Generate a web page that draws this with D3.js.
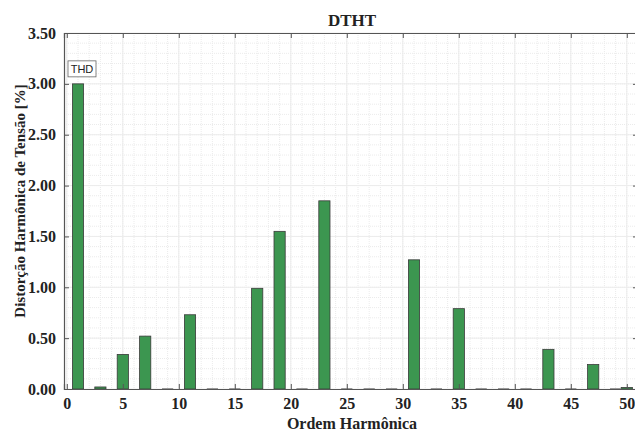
<!DOCTYPE html>
<html>
<head>
<meta charset="utf-8">
<script src="https://cdn.jsdelivr.net/npm/d3@7"></script>
<style>
  body { margin: 0; background: #fff; }
  text { font-family: "Liberation Serif", "Times New Roman", serif; }
</style>
</head>
<body>
<div id="chart"></div>
<script>
// harmonic orders and their voltage distortion (%)
const harmonics = [1, 3, 5, 7, 9, 11, 13, 15, 17, 19, 21, 23, 25, 27, 29, 31, 33, 35, 37, 39, 41, 43, 45, 47, 49, 50]
const dtht = [3.00, 0.02, 0.34, 0.52, 0, 0.73, 0, 0, 0.99, 1.55, 0, 1.85, 0, 0, 0, 1.27, 0, 0.79, 0, 0, 0, 0.39, 0, 0.24, 0, 0.015]
const xTicks = [0, 5, 10, 15, 20, 25, 30, 35, 40, 45, 50]
const yTicks = [0, 0.5, 1, 1.5, 2, 2.5, 3, 3.5]

const W = 635, H = 433
const margin = {top: 33, right: -3, bottom: 44, left: 64}
const w = W - margin.left - margin.right,
    h = H - margin.top - margin.bottom

const svg = d3.select("#chart").append("svg")
    .attr("width", W)
    .attr("height", H)

const g = svg.append("g")
    .attr("transform", `translate(${margin.left}, ${margin.top})`)

const x = d3.scaleLinear().domain([-0.25, 51]).range([0, w])
const y = d3.scaleLinear().domain([0, 3.5]).range([h, 0])

// minor grid
g.append("g").selectAll("line")
    .data(d3.range(0, 52, 1))
    .join("line")
    .attr("x1", d => x(d)).attr("x2", d => x(d))
    .attr("y1", 0).attr("y2", h)
    .attr("stroke", "#ebebeb")
    .attr("stroke-dasharray", "1,1")
g.append("g").selectAll("line")
    .data(d3.range(1, 35).map(d => d / 10))
    .join("line")
    .attr("x1", 0).attr("x2", w)
    .attr("y1", d => y(d)).attr("y2", d => y(d))
    .attr("stroke", "#ebebeb")
    .attr("stroke-dasharray", "1,1")

// major grid
g.append("g").selectAll("line")
    .data(xTicks)
    .join("line")
    .attr("x1", d => x(d)).attr("x2", d => x(d))
    .attr("y1", 0).attr("y2", h)
    .attr("stroke", "#ececec")
g.append("g").selectAll("line")
    .data(yTicks)
    .join("line")
    .attr("x1", 0).attr("x2", w)
    .attr("y1", d => y(d)).attr("y2", d => y(d))
    .attr("stroke", "#ececec")

// bars
const bw = x(1) - x(0)
g.append("g").selectAll("rect")
    .data(harmonics)
    .join("rect")
    .attr("x", d => x(d) - bw / 2)
    .attr("y", (d, i) => y(dtht[i]))
    .attr("width", bw)
    .attr("height", (d, i) => y(0) - y(dtht[i]))
    .attr("fill", "#3c9650")
    .attr("stroke", "#3a3a3a")
    .attr("stroke-width", 0.8)

// zero-height bars still show their edge
g.append("g").selectAll("line")
    .data(harmonics.filter((d, i) => dtht[i] === 0))
    .join("line")
    .attr("x1", d => x(d) - bw / 2).attr("x2", d => x(d) + bw / 2)
    .attr("y1", y(0) - 0.5).attr("y2", y(0) - 0.5)
    .attr("stroke", "#999")
    .attr("stroke-width", 1)

// axes (ticks pointing inside, like the original)
const fmt = d3.format(".2f")
const xAxis = g.append("g")
    .attr("transform", `translate(0, ${h})`)
    .call(d3.axisBottom(x).tickValues(xTicks).tickSize(-5).tickPadding(9))
const xTop = g.append("g")
    .call(d3.axisTop(x).tickValues(xTicks).tickSize(-5).tickFormat(""))
const yAxis = g.append("g")
    .call(d3.axisLeft(y).tickValues(yTicks).tickSize(-5).tickPadding(8).tickFormat(fmt))
const yRight = g.append("g")
    .attr("transform", `translate(${w}, 0)`)
    .call(d3.axisRight(y).tickValues(yTicks).tickSize(-5).tickFormat(""))

for (const ax of [xAxis, xTop, yAxis, yRight]) {
    ax.select(".domain").attr("stroke", "#555").attr("stroke-width", 1.2)
    ax.selectAll(".tick line").attr("stroke", "#555")
}
for (const ax of [xAxis, yAxis]) {
    ax.selectAll(".tick text")
        .attr("font-family", "Liberation Serif")
        .attr("font-weight", "bold")
        .attr("font-size", 16)
        .attr("fill", "#222")
}

// THD label
const thd = g.append("g")
    .attr("transform", `translate(${x(1) - 10}, ${y(3.0) - 23})`)
thd.append("rect")
    .attr("width", 28).attr("height", 16)
    .attr("fill", "#fff")
    .attr("stroke", "#666")
    .attr("stroke-width", 0.8)
thd.append("text")
    .attr("x", 14).attr("y", 12)
    .attr("text-anchor", "middle")
    .style("font-family", "Liberation Sans, Arial, sans-serif")
    .attr("font-size", 11)
    .attr("fill", "#222")
    .text("THD")

// title and labels
svg.append("text")
    .attr("x", 352).attr("y", 26)
    .attr("text-anchor", "middle")
    .attr("font-weight", "bold")
    .attr("font-size", 17)
    .attr("fill", "#222")
    .text("DTHT")

svg.append("text")
    .attr("x", 352).attr("y", 429)
    .attr("text-anchor", "middle")
    .attr("font-weight", "bold")
    .attr("font-size", 16)
    .attr("fill", "#222")
    .text("Ordem Harmônica")

svg.append("text")
    .attr("transform", `translate(25, ${margin.top + h / 2 - 10}) rotate(-90)`)
    .attr("text-anchor", "middle")
    .attr("font-weight", "bold")
    .attr("font-size", 15)
    .attr("fill", "#222")
    .text("Distorção Harmônica de Tensão [%]")
</script>
</body>
</html>
